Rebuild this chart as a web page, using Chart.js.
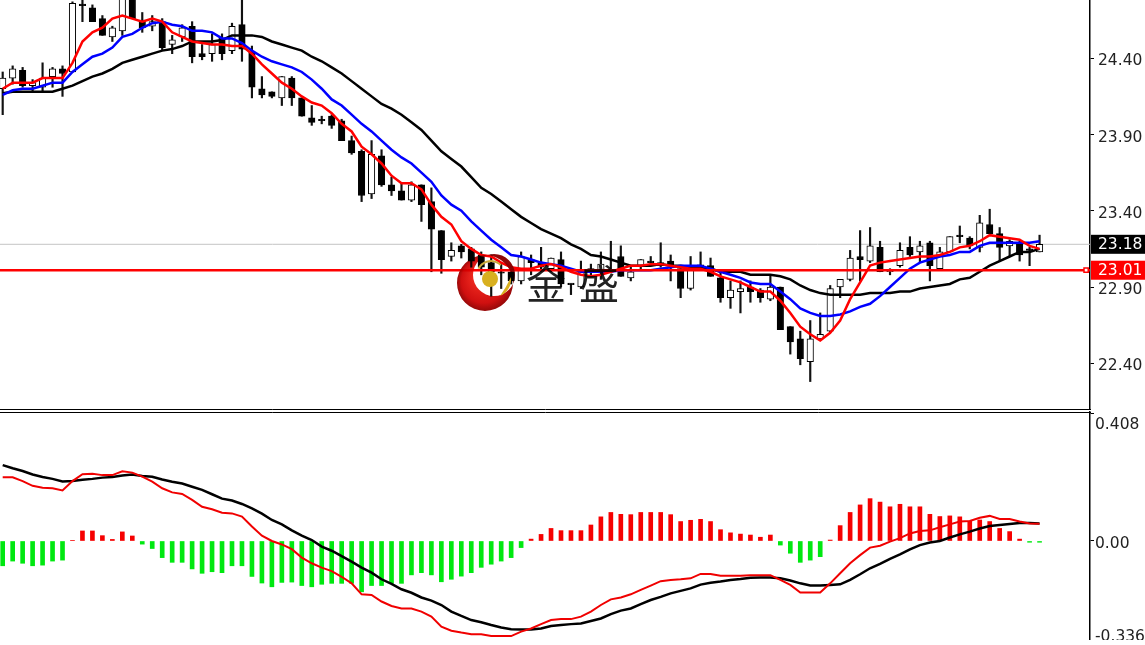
<!DOCTYPE html>
<html>
<head>
<meta charset="utf-8">
<title>Chart</title>
<script src="https://cdn.jsdelivr.net/npm/chart.js@4/dist/chart.umd.js"></script>
<style>
  html, body { margin: 0; padding: 0; background: #fff; overflow: hidden; }
  canvas { position: absolute; left: 0; }
  #pricePane { top: 0; }
  #macdPane { top: 411px; }
</style>
</head>
<body>
<canvas id="pricePane" width="1145" height="411"></canvas>
<canvas id="macdPane" width="1145" height="229"></canvas>
<script>
// candles
const opens = [24.20,24.27,24.32,24.22,24.21,24.28,24.33,24.31,24.755,24.73,24.66,24.54,24.58,24.82,24.65,24.61,24.64,24.49,24.54,24.61,24.43,24.43,24.53,24.45,24.62,24.44,24.20,24.18,24.14,24.27,
  24.14,24.01,24.00,24.02,23.99,23.86,23.79,23.51,23.76,23.57,23.53,23.47,23.57,23.46,23.27,23.10,23.17,23.15,23.11,23.06,23.00,23.00,22.94,23.08,23.06,23.02,23.08,22.925,22.90,23.02,
  23.00,23.11,23.10,22.96,23.04,23.07,23.06,23.07,23.02,22.89,23.045,23.04,22.96,22.83,22.87,22.90,22.88,22.82,22.90,22.64,22.56,22.41,22.56,22.61,22.90,22.95,23.10,23.07,23.16,23.00,
  23.04,23.16,23.13,23.19,23.02,23.13,23.24,23.22,23.16,23.31,23.25,23.17,23.19,23.15,23.13];
const highs = [24.31,24.35,24.34,24.26,24.37,24.34,24.35,24.77,24.82,24.75,24.68,24.61,24.85,24.84,24.70,24.68,24.66,24.55,24.62,24.64,24.49,24.56,24.56,24.63,24.80,24.48,24.28,24.18,24.28,24.28,
  24.14,24.09,24.02,24.03,24.00,23.89,23.80,23.86,23.80,23.62,23.58,23.59,23.57,23.55,23.27,23.19,23.18,23.16,23.13,23.11,23.06,23.00,23.13,23.11,23.16,23.09,23.13,22.92,23.07,23.05,
  23.13,23.20,23.17,23.04,23.08,23.10,23.19,23.11,23.02,23.10,23.13,23.09,23.00,22.94,22.94,22.94,22.89,22.98,22.90,22.64,22.61,22.68,22.73,22.91,22.95,23.14,23.27,23.29,23.20,23.02,
  23.19,23.23,23.20,23.20,23.16,23.23,23.30,23.23,23.37,23.41,23.29,23.21,23.20,23.16,23.24];
const lows = [24.03,24.23,24.21,24.18,24.18,24.21,24.15,24.31,24.64,24.64,24.55,24.51,24.55,24.66,24.57,24.58,24.45,24.43,24.51,24.37,24.39,24.38,24.39,24.43,24.38,24.14,24.14,24.14,24.09,24.09,
  24.02,23.96,23.97,23.94,23.86,23.77,23.46,23.48,23.56,23.50,23.47,23.46,23.33,23.00,22.99,23.07,23.09,23.03,22.98,22.84,22.89,22.92,22.92,22.98,23.00,23.00,22.90,22.85,22.89,22.98,
  22.95,23.02,22.97,22.94,23.02,23.05,23.03,22.94,22.83,22.88,23.02,22.97,22.80,22.76,22.73,22.80,22.80,22.81,22.62,22.46,22.39,22.28,22.56,22.60,22.83,22.94,22.94,23.06,23.00,22.98,
  23.03,23.10,23.06,22.94,23.02,23.13,23.19,23.15,23.13,23.25,23.07,23.10,23.07,23.04,23.13];
const closes = [24.27,24.33,24.22,24.24,24.27,24.33,24.30,24.76,24.745,24.64,24.55,24.60,24.82,24.66,24.60,24.64,24.47,24.52,24.60,24.41,24.41,24.49,24.43,24.61,24.46,24.21,24.16,24.15,24.28,24.14,
  24.02,23.98,23.99,23.96,23.86,23.78,23.50,23.77,23.57,23.53,23.47,23.57,23.44,23.28,23.08,23.14,23.13,23.07,23.03,23.00,22.99,22.94,23.10,23.06,23.03,23.09,22.92,22.915,23.00,23.00,
  23.05,23.11,22.97,23.00,23.08,23.06,23.04,23.04,22.89,23.02,23.035,22.97,22.83,22.88,22.89,22.87,22.83,22.90,22.62,22.54,22.43,22.56,22.59,22.89,22.95,23.09,23.08,23.17,23.00,23.01,
  23.14,23.11,23.17,23.04,23.13,23.23,23.23,23.17,23.32,23.25,23.16,23.20,23.11,23.14,23.18];

// moving averages on the price pane
const maFast = [24.20,24.24,24.24,24.24,24.27,24.27,24.27,24.37,24.51,24.57,24.60,24.66,24.68,24.66,24.64,24.66,24.64,24.57,24.54,24.51,24.50,24.49,24.49,24.48,24.48,24.43,24.36,24.30,24.24,24.20,
  24.15,24.11,24.09,24.04,23.97,23.92,23.82,23.77,23.71,23.63,23.58,23.58,23.54,23.44,23.36,23.31,23.20,23.15,23.11,23.10,23.06,23.03,23.02,23.02,23.04,23.05,23.03,23.00,22.98,22.97,
  22.98,23.00,23.02,23.04,23.04,23.05,23.05,23.04,23.03,23.02,23.02,23.00,22.97,22.95,22.93,22.90,22.87,22.87,22.81,22.73,22.64,22.59,22.55,22.60,22.68,22.82,22.93,23.04,23.06,23.07,
  23.08,23.09,23.10,23.10,23.11,23.13,23.16,23.17,23.20,23.24,23.23,23.22,23.21,23.17,23.15];
const maMid = [24.16,24.19,24.20,24.20,24.22,24.24,24.24,24.31,24.36,24.41,24.43,24.47,24.54,24.56,24.60,24.63,24.64,24.62,24.61,24.58,24.58,24.57,24.53,24.53,24.50,24.45,24.41,24.38,24.36,24.34,
  24.31,24.26,24.20,24.13,24.09,24.03,23.97,23.92,23.86,23.80,23.75,23.71,23.65,23.59,23.50,23.44,23.40,23.33,23.27,23.21,23.16,23.11,23.10,23.08,23.06,23.05,23.04,23.02,23.00,23.00,
  23.00,23.00,23.01,23.01,23.01,23.01,23.02,23.03,23.04,23.04,23.04,23.02,23.00,22.98,22.96,22.93,22.92,22.92,22.87,22.82,22.76,22.73,22.71,22.71,22.72,22.74,22.77,22.79,22.84,22.90,
  22.96,23.02,23.06,23.08,23.10,23.11,23.13,23.13,23.17,23.19,23.19,23.19,23.19,23.19,23.20];
const maSlow = [24.17,24.18,24.18,24.18,24.18,24.18,24.20,24.22,24.25,24.28,24.30,24.33,24.37,24.39,24.41,24.43,24.45,24.46,24.48,24.51,24.51,24.51,24.52,24.55,24.55,24.55,24.54,24.51,24.49,24.47,
  24.45,24.41,24.38,24.34,24.30,24.25,24.20,24.15,24.10,24.07,24.03,23.98,23.93,23.86,23.79,23.74,23.69,23.62,23.55,23.51,23.46,23.41,23.36,23.32,23.28,23.25,23.22,23.18,23.15,23.11,
  23.10,23.08,23.06,23.04,23.04,23.04,23.05,23.04,23.04,23.03,23.03,23.02,23.00,23.00,23.00,22.98,22.98,22.98,22.97,22.95,22.91,22.88,22.86,22.85,22.85,22.85,22.85,22.86,22.86,22.86,
  22.87,22.87,22.89,22.90,22.91,22.92,22.95,22.96,23.00,23.04,23.07,23.10,23.13,23.13,23.15];

// MACD pane
const macdHist = [-0.079,-0.064,-0.071,-0.079,-0.077,-0.064,-0.061,0.002,0.032,0.032,0.017,0.005,0.029,0.016,-0.010,-0.024,-0.053,-0.068,-0.068,-0.089,-0.103,-0.098,-0.101,-0.079,-0.079,-0.113,-0.134,-0.146,-0.132,-0.131,
  -0.142,-0.146,-0.138,-0.135,-0.135,-0.135,-0.162,-0.142,-0.142,-0.135,-0.135,-0.108,-0.101,-0.108,-0.130,-0.122,-0.112,-0.101,-0.084,-0.074,-0.064,-0.053,-0.021,0.006,0.021,0.040,0.033,0.033,0.033,0.051,
  0.077,0.091,0.085,0.084,0.091,0.091,0.091,0.084,0.062,0.066,0.069,0.062,0.036,0.026,0.022,0.019,0.012,0.019,-0.013,-0.039,-0.068,-0.061,-0.050,0.003,0.049,0.091,0.115,0.135,0.124,0.109,
  0.117,0.109,0.109,0.085,0.078,0.080,0.077,0.063,0.067,0.062,0.040,0.030,0.006,-0.004,-0.004];
const macdFast = [0.203,0.203,0.191,0.176,0.170,0.168,0.161,0.191,0.213,0.214,0.210,0.210,0.222,0.218,0.205,0.189,0.168,0.155,0.150,0.131,0.109,0.101,0.090,0.088,0.078,0.046,0.017,0,-0.011,-0.026,
  -0.053,-0.071,-0.085,-0.096,-0.114,-0.135,-0.170,-0.172,-0.193,-0.207,-0.215,-0.215,-0.225,-0.241,-0.273,-0.286,-0.292,-0.297,-0.297,-0.303,-0.303,-0.303,-0.289,-0.279,-0.265,-0.252,-0.249,-0.249,-0.241,-0.225,
  -0.204,-0.186,-0.180,-0.170,-0.156,-0.142,-0.128,-0.124,-0.122,-0.119,-0.105,-0.105,-0.111,-0.111,-0.111,-0.109,-0.109,-0.109,-0.124,-0.140,-0.164,-0.164,-0.164,-0.135,-0.103,-0.071,-0.045,-0.021,-0.015,-0.002,
  0.009,0.024,0.032,0.034,0.044,0.053,0.062,0.064,0.074,0.080,0.070,0.070,0.062,0.056,0.055];
const macdSignal = [0.242,0.232,0.223,0.212,0.204,0.198,0.190,0.191,0.195,0.198,0.202,0.204,0.209,0.212,0.207,0.205,0.196,0.189,0.183,0.173,0.163,0.149,0.135,0.129,0.118,0.104,0.087,0.067,0.053,0.034,
  0.017,0.003,-0.018,-0.031,-0.048,-0.066,-0.085,-0.101,-0.122,-0.137,-0.154,-0.165,-0.180,-0.190,-0.204,-0.225,-0.239,-0.252,-0.259,-0.268,-0.276,-0.281,-0.282,-0.282,-0.279,-0.271,-0.268,-0.265,-0.263,-0.255,
  -0.247,-0.233,-0.222,-0.215,-0.201,-0.188,-0.178,-0.167,-0.159,-0.151,-0.139,-0.133,-0.129,-0.124,-0.121,-0.117,-0.116,-0.116,-0.119,-0.126,-0.135,-0.142,-0.142,-0.140,-0.138,-0.124,-0.106,-0.087,-0.073,-0.057,
  -0.043,-0.027,-0.013,-0.005,0,0.011,0.021,0.030,0.040,0.048,0.051,0.054,0.057,0.057,0.056];

// axes
const priceTicks = [24.40, 23.90, 23.40, 22.90, 22.40];
const macdTicks = [0.408, 0];
const macdTickLabels = ["0.408", "0.00", "-0.336"];
const lastPrice = 23.18;
const linePrice = 23.01;

const FONT = '15.5px "DejaVu Sans"';
const TEXT = "#222";
const X_MIN = -0.27;
const X_MAX = 109.06;

const xAxis = (position) => ({
  type: "linear",
  position: position,
  min: X_MIN,
  max: X_MAX,
  offset: false,
  ticks: { display: false },
  grid: { display: false, drawTicks: false },
  border: { display: true, color: "#000", width: 1 },
});

const yAxis = (min, max, ticks, showLabels, format) => ({
  position: "right",
  min: min,
  max: max,
  // ticks are not at the ends of the pane, so no room is needed for half a label
  afterFit: (scale) => { scale.width = 55; scale.paddingTop = 0; scale.paddingBottom = 0; },
  afterBuildTicks: (scale) => { scale.ticks = ticks.map((v) => ({ value: v })); },
  grid: { drawOnChartArea: false, tickColor: "#000", tickLength: 4, tickWidth: 1 },
  border: { display: true, color: "#000", width: 1.5 },
  ticks: { display: showLabels, autoSkip: false, padding: 4, labelOffset: 3, color: TEXT, font: { family: "DejaVu Sans", size: 15.5 }, callback: format },
});

const lineSet = (values, color, width, order) => ({
  type: "line",
  data: values.map((v, i) => ({ x: i, y: v })),
  borderColor: color,
  borderWidth: width,
  pointRadius: 0,
  tension: 0,
  order: order,
});

const labelBox = (ctx, area, y, fill, text) => {
  ctx.fillStyle = fill;
  ctx.fillRect(area.right + 1, y - 9.5, 55, 19);
  ctx.fillStyle = "#fff";
  ctx.font = FONT;
  ctx.textAlign = "left";
  ctx.textBaseline = "middle";
  ctx.fillText(text, area.right + 8, y + 1);
};

// crescent logo and the two characters lying over the candles
const drawLogo = (ctx) => {
  ctx.save();
  ctx.globalCompositeOperation = "multiply";

  const red = ctx.createRadialGradient(480, 276, 6, 485, 283, 29);
  red.addColorStop(0, "#f02a20");
  red.addColorStop(0.7, "#d01010");
  red.addColorStop(1, "#8e0808");
  ctx.fillStyle = red;
  ctx.beginPath();
  ctx.arc(485, 283, 28, 0, Math.PI * 2);
  ctx.arc(494, 275, 21, 0, Math.PI * 2, true);
  ctx.fill();

  ctx.restore();
  ctx.save();

  ctx.fillStyle = "#d8b020";
  ctx.beginPath();
  ctx.arc(490, 279, 8, 0, Math.PI * 2);
  ctx.fill();
  ctx.beginPath();
  ctx.moveTo(500, 296);
  ctx.quadraticCurveTo(512, 290, 511, 277);
  ctx.quadraticCurveTo(506, 288, 500, 296);
  ctx.fill();
  ctx.strokeStyle = "#c8a838";
  ctx.lineWidth = 2;
  ctx.beginPath();
  ctx.arc(491, 275, 14, -Math.PI * 0.85, -Math.PI * 0.25);
  ctx.stroke();

  ctx.globalCompositeOperation = "multiply";
  ctx.fillStyle = "#222";
  ctx.font = '40px "Noto Sans CJK SC"';
  ctx.textAlign = "left";
  ctx.textBaseline = "middle";
  ctx.fillText("金", 526, 284);
  ctx.fillText("盛", 579, 284);
  ctx.restore();
};

const priceExtras = {
  id: "priceExtras",
  afterDraw(chart) {
    const { ctx, chartArea, scales } = chart;
    drawLogo(ctx);
    labelBox(ctx, chartArea, scales.y.getPixelForValue(lastPrice), "#000", lastPrice.toFixed(2));
    labelBox(ctx, chartArea, scales.y.getPixelForValue(linePrice), "#f00", linePrice.toFixed(2));
  },
};

const macdExtras = {
  id: "macdExtras",
  afterDraw(chart) {
    const { ctx, chartArea, scales } = chart;
    const ys = [scales.y.getPixelForValue(0.408) + 12, scales.y.getPixelForValue(0) + 3, scales.y.bottom - 3];
    ctx.fillStyle = TEXT;
    ctx.font = FONT;
    ctx.textAlign = "left";
    ctx.textBaseline = "middle";
    macdTickLabels.forEach((t, i) => ctx.fillText(t, chartArea.right + 5, ys[i]));
  },
};

new Chart(document.getElementById("pricePane"), {
  type: "bar",
  data: {
    datasets: [
      {
        type: "line",
        data: [{ x: X_MIN, y: lastPrice }, { x: X_MAX, y: lastPrice }],
        borderColor: "#c4c4c4", borderWidth: 1, pointRadius: 0, order: 9,
      },
      {
        data: lows.map((v, i) => ({ x: i, y: [v, highs[i]] })),
        backgroundColor: "#111", borderWidth: 0, barThickness: 1.5, grouped: false, order: 8,
      },
      {
        data: opens.map((v, i) => ({ x: i, y: [v, closes[i]] })),
        backgroundColor: opens.map((v, i) => (closes[i] > v ? "#fff" : "#000")),
        borderColor: "#000", borderWidth: 1, borderSkipped: false, barThickness: 6.5, grouped: false, order: 7,
      },
      lineSet(maSlow, "#000", 2.5, 6),
      lineSet(maMid, "#0000ff", 2.5, 5),
      lineSet(maFast, "#ff0000", 2.5, 4),
      {
        type: "line",
        data: [{ x: X_MIN, y: linePrice }, { x: 108.67, y: linePrice }, { x: X_MAX, y: linePrice }],
        borderColor: "#ff0000", borderWidth: 2.5,
        pointStyle: "rect", pointRadius: [0, 3, 0], pointBackgroundColor: "#fff", pointBorderColor: "#ff0000", pointBorderWidth: 1.5,
        order: 3,
      },
    ],
  },
  options: {
    responsive: false,
    animation: false,
    devicePixelRatio: 1,
    layout: { padding: { top: 0, right: 0, left: 0, bottom: 2 } },
    plugins: { legend: { display: false }, tooltip: { enabled: false } },
    scales: {
      x: xAxis("bottom"),
      y: yAxis(22.100, 24.782, priceTicks, true, (v) => v.toFixed(2)),
    },
  },
  plugins: [priceExtras],
});

new Chart(document.getElementById("macdPane"), {
  type: "bar",
  data: {
    datasets: [
      {
        data: macdHist.map((v, i) => ({ x: i, y: v })),
        backgroundColor: macdHist.map((v) => (v >= 0 ? "#f60000" : "#00e810")),
        borderWidth: 0, barThickness: 4, grouped: false, order: 3,
      },
      lineSet(macdSignal, "#000", 2.5, 2),
      lineSet(macdFast, "#f00000", 2, 1),
    ],
  },
  options: {
    responsive: false,
    animation: false,
    devicePixelRatio: 1,
    layout: { padding: { top: 1, right: 0, left: 0, bottom: 0 } },
    plugins: { legend: { display: false }, tooltip: { enabled: false } },
    scales: {
      x: xAxis("top"),
      y: yAxis(-0.3156, 0.4112, macdTicks, false),
    },
  },
  plugins: [macdExtras],
});
</script>
</body>
</html>
